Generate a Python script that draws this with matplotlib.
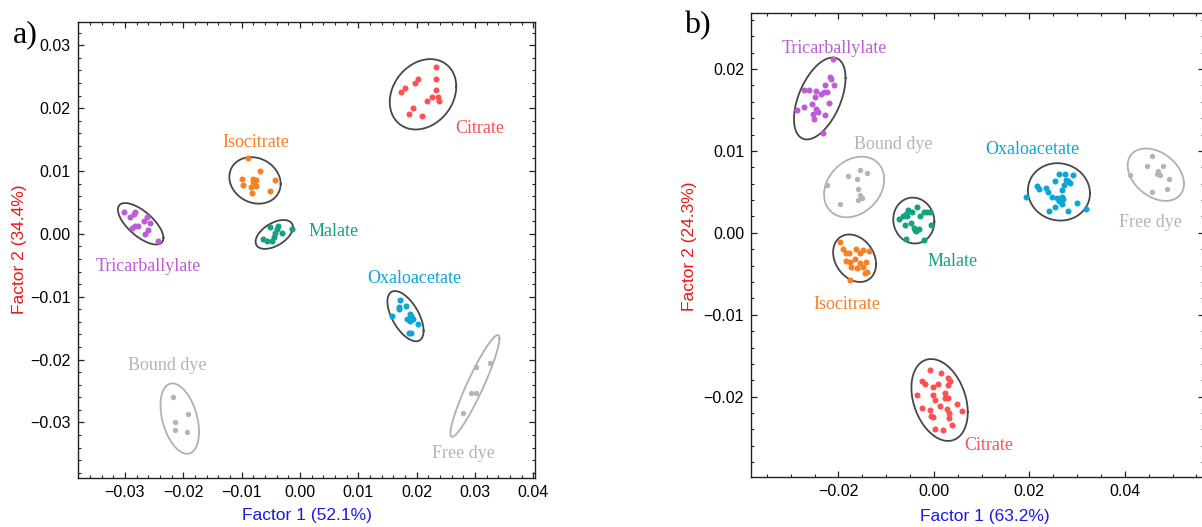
import numpy as np
import matplotlib
matplotlib.use("Agg")
from matplotlib import pyplot as plt
from matplotlib.ticker import MultipleLocator, FixedLocator, FuncFormatter

# group order used by every list below
GROUPS = ["Citrate", "Isocitrate", "Malate", "Tricarballylate", "Oxaloacetate", "Bound dye", "Free dye"]
COLORS = ["#FA5252", "#FA7F22", "#12A282", "#BE5CD8", "#0AA6D8", "#B4B4B4", "#B4B4B4"]
RING_COLORS = ["#474747"] * 5 + ["#B0B0B0"] * 2

# ---- panel a: scores (Factor 1, Factor 2)
A_CITRATE = [(0.0234, 0.0266), (0.0203, 0.0246), (0.0198, 0.0240), (0.0180, 0.0232), (0.0174, 0.0225),
             (0.0233, 0.0246), (0.0233, 0.0229), (0.0227, 0.0217), (0.0218, 0.0211), (0.0236, 0.0217),
             (0.0239, 0.0211), (0.0193, 0.0200), (0.0187, 0.0191), (0.0209, 0.0188)]
A_ISOCITRATE = [(-0.0089, 0.0120), (-0.0068, 0.0100), (-0.0100, 0.0088), (-0.0080, 0.0088), (-0.0075, 0.0086),
                (-0.0042, 0.0086), (-0.0081, 0.0082), (-0.0098, 0.0077), (-0.0083, 0.0075), (-0.0076, 0.0076),
                (-0.0051, 0.0068), (-0.0082, 0.0065)]
A_MALATE = [(-0.0051, 0.0011), (-0.0037, 0.0013), (-0.0039, 0.0008), (-0.0030, 0.0002), (-0.0014, 0.0008),
            (-0.0063, -0.0009), (-0.0057, -0.0012), (-0.0048, -0.0011), (-0.0045, -0.0005), (-0.0042, 0.0001)]
A_TRICARB = [(-0.0301, 0.0035), (-0.0292, 0.0027), (-0.0285, 0.0032), (-0.0282, 0.0035), (-0.0262, 0.0027),
             (-0.0268, 0.0021), (-0.0257, 0.0018), (-0.0278, 0.0013), (-0.0282, 0.0012), (-0.0287, 0.0009),
             (-0.0261, 0.0006), (-0.0266, 0.0000), (-0.0243, -0.0012)]
A_OXALO = [(0.0171, -0.0105), (0.0181, -0.0115), (0.0170, -0.0116), (0.0169, -0.0120), (0.0157, -0.0130),
           (0.0189, -0.0127), (0.0190, -0.0131), (0.0184, -0.0135), (0.0189, -0.0138), (0.0193, -0.0135),
           (0.0203, -0.0143), (0.0187, -0.0158), (0.0190, -0.0158)]
A_BOUND = [(-0.0218, -0.0259), (-0.0191, -0.0287), (-0.0214, -0.0299), (-0.0214, -0.0312), (-0.0193, -0.0316)]
A_FREE = [(0.0302, -0.0212), (0.0325, -0.0205), (0.0293, -0.0254), (0.0301, -0.0254), (0.0279, -0.0285)]

# ellipses: centre, half extent in x / y, tilt (correlation)
A_ELL_CX = [0.0211, -0.0077, -0.0044, -0.0273, 0.0181, -0.0206, 0.0300]
A_ELL_CY = [0.0222, 0.0085, -0.0001, 0.0016, -0.0131, -0.0294, -0.0242]
A_ELL_RX = [0.0057, 0.0044, 0.0032, 0.0039, 0.0031, 0.0033, 0.0042]
A_ELL_RY = [0.0056, 0.0037, 0.0023, 0.0033, 0.0040, 0.0056, 0.0081]
A_ELL_RHO = [0.22, -0.15, 0.50, -0.68, -0.58, -0.38, 0.93]

A_LABEL_X = [0.0309, -0.0075, 0.0058, -0.0260, 0.0196, -0.0228, 0.0280]
A_LABEL_Y = [0.0168, 0.0145, 0.0004, -0.0052, -0.0071, -0.0209, -0.0350]

# ---- panel b
B_CITRATE = [(-0.0008, -0.0168), (0.0015, -0.0171), (0.0030, -0.0177), (0.0033, -0.0181), (-0.0025, -0.0181),
             (-0.0019, -0.0184), (0.0008, -0.0184), (-0.0002, -0.0188), (0.0030, -0.0186), (0.0024, -0.0196),
             (-0.0036, -0.0198), (-0.0002, -0.0198), (0.0003, -0.0204), (0.0024, -0.0202), (0.0030, -0.0201),
             (0.0013, -0.0211), (0.0049, -0.0209), (-0.0025, -0.0214), (-0.0008, -0.0216), (0.0028, -0.0215),
             (-0.0005, -0.0223), (-0.0002, -0.0225), (0.0032, -0.0220), (0.0060, -0.0218), (0.0032, -0.0226),
             (0.0038, -0.0234), (0.0002, -0.0239), (0.0020, -0.0241)]
B_ISOCITRATE = [(-0.0196, -0.0011), (-0.0190, -0.0020), (-0.0185, -0.0024), (-0.0178, -0.0024), (-0.0164, -0.0020),
                (-0.0155, -0.0024), (-0.0148, -0.0021), (-0.0136, -0.0022), (-0.0183, -0.0034), (-0.0175, -0.0035),
                (-0.0166, -0.0032), (-0.0155, -0.0037), (-0.0142, -0.0036), (-0.0173, -0.0042), (-0.0161, -0.0043),
                (-0.0149, -0.0042), (-0.0140, -0.0048), (-0.0145, -0.0049), (-0.0175, -0.0058)]
B_MALATE = [(-0.0072, 0.0017), (-0.0064, 0.0021), (-0.0058, 0.0023), (-0.0055, 0.0028), (-0.0046, 0.0026),
            (-0.0036, 0.0032), (-0.0029, 0.0021), (-0.0021, 0.0025), (-0.0014, 0.0025), (-0.0009, 0.0026),
            (-0.0007, 0.0010), (-0.0061, 0.0009), (-0.0047, 0.0012), (-0.0042, 0.0006), (-0.0038, 0.0002),
            (-0.0032, 0.0005), (-0.0059, -0.0008), (-0.0021, -0.0009), (-0.0056, 0.0021), (-0.0040, 0.0003)]
B_TRICARB = [(-0.0211, 0.0212), (-0.0218, 0.0190), (-0.0215, 0.0188), (-0.0227, 0.0181), (-0.0209, 0.0181),
             (-0.0272, 0.0174), (-0.0261, 0.0174), (-0.0246, 0.0173), (-0.0230, 0.0172), (-0.0223, 0.0172),
             (-0.0237, 0.0169), (-0.0248, 0.0166), (-0.0286, 0.0150), (-0.0272, 0.0154), (-0.0256, 0.0157),
             (-0.0246, 0.0151), (-0.0243, 0.0147), (-0.0220, 0.0159), (-0.0254, 0.0145), (-0.0227, 0.0144),
             (-0.0251, 0.0139), (-0.0232, 0.0122)]
B_OXALO = [(0.0263, 0.0072), (0.0275, 0.0072), (0.0291, 0.0070), (0.0254, 0.0063), (0.0276, 0.0065),
           (0.0282, 0.0063), (0.0285, 0.0061), (0.0273, 0.0059), (0.0217, 0.0057), (0.0221, 0.0054),
           (0.0235, 0.0055), (0.0240, 0.0050), (0.0268, 0.0052), (0.0248, 0.0044), (0.0258, 0.0042),
           (0.0268, 0.0044), (0.0271, 0.0041), (0.0263, 0.0039), (0.0269, 0.0035), (0.0254, 0.0032),
           (0.0299, 0.0037), (0.0242, 0.0027), (0.0280, 0.0027), (0.0319, 0.0029), (0.0194, 0.0044)]
B_BOUND = [(-0.0223, 0.0058), (-0.0179, 0.0069), (-0.0161, 0.0066), (-0.0155, 0.0077), (-0.0139, 0.0073),
           (-0.0159, 0.0054), (-0.0155, 0.0046), (-0.0150, 0.0043), (-0.0158, 0.0040), (-0.0197, 0.0035)]
B_FREE = [(0.0457, 0.0094), (0.0446, 0.0081), (0.0479, 0.0082), (0.0470, 0.0076), (0.0467, 0.0072),
          (0.0474, 0.0070), (0.0411, 0.0070), (0.0493, 0.0066), (0.0489, 0.0054), (0.0457, 0.0050)]

B_ELL_CX = [0.0012, -0.0166, -0.0042, -0.0239, 0.0262, -0.0167, 0.0465]
B_ELL_CY = [-0.0204, -0.0031, 0.0015, 0.0164, 0.0050, 0.0056, 0.0071]
B_ELL_RX = [0.0059, 0.0045, 0.0043, 0.0054, 0.0065, 0.0063, 0.0059]
B_ELL_RY = [0.0050, 0.0029, 0.0028, 0.0050, 0.0035, 0.0037, 0.0032]
B_ELL_RHO = [-0.30, -0.25, -0.05, 0.50, -0.05, 0.25, -0.35]

B_LABEL_X = [0.0114, -0.0183, 0.0040, -0.0209, 0.0206, -0.0084, 0.0453]
B_LABEL_Y = [-0.0259, -0.0088, -0.0035, 0.0225, 0.0102, 0.0108, 0.0013]


def ring(cx, cy, rx, ry, rho):
    t = np.linspace(0, 2 * np.pi, 240)
    x = cx + rx * np.cos(t)
    y = cy + ry * (rho * np.cos(t) + np.sqrt(1 - rho ** 2) * np.sin(t))
    return x, y


def tick_fmt(v, pos):
    s = f"{v:.2f}"
    if s == "-0.00":
        s = "0.00"
    return s.replace("-", "\u2212")


def draw_panel(ax, groups_pts, ell, labels, xlim, ylim, xmajor, ymajor, xminor, yminor, xlab, ylab):
    cxs, cys, rxs, rys, rhos = ell
    for i, pts in enumerate(groups_pts):
        x, y = ring(cxs[i], cys[i], rxs[i], rys[i], rhos[i])
        ax.plot(x, y, color=RING_COLORS[i], lw=1.3, zorder=2)
        pts = np.array(pts)
        size = 15 if i >= 5 else 19
        ax.scatter(pts[:, 0], pts[:, 1], s=size, color=COLORS[i], linewidths=0, zorder=3)
        ax.text(labels[0][i], labels[1][i], GROUPS[i], color=COLORS[i], fontsize=13,
                family="Liberation Serif", ha="center", va="center", zorder=4)

    ax.set_xlim(*xlim)
    ax.set_ylim(*ylim)
    ax.xaxis.set_major_locator(FixedLocator(xmajor))
    ax.yaxis.set_major_locator(FixedLocator(ymajor))
    ax.xaxis.set_minor_locator(MultipleLocator(xminor))
    ax.yaxis.set_minor_locator(MultipleLocator(yminor))
    ax.xaxis.set_major_formatter(FuncFormatter(tick_fmt))
    ax.yaxis.set_major_formatter(FuncFormatter(tick_fmt))
    ax.tick_params(which="both", direction="in", top=True, right=True, color="#222222",
                   labelsize=11.5, pad=5)
    ax.tick_params(which="major", length=4.5, width=0.9)
    ax.tick_params(which="minor", length=2.5, width=0.8)
    for sp in ax.spines.values():
        sp.set_linewidth(1.0)
        sp.set_color("#222222")

    ax.set_xlabel(xlab[0], color="#1A1AE6", fontsize=12.5)
    ax.set_ylabel(ylab[0], color="#EE1515", fontsize=12.5)
    ax.xaxis.set_label_coords(xlab[1], xlab[2])
    ax.yaxis.set_label_coords(ylab[1], ylab[2])


def main():
    plt.rcParams["font.family"] = ["Liberation Sans", "DejaVu Sans"]
    fig = plt.figure(figsize=(12.02, 5.27), dpi=100)

    ax_a = fig.add_axes([0.0646, 0.0924, 0.3805, 0.8658])
    ax_b = fig.add_axes([0.6248, 0.0949, 0.3769, 0.8799])

    draw_panel(ax_a,
               [A_CITRATE, A_ISOCITRATE, A_MALATE, A_TRICARB, A_OXALO, A_BOUND, A_FREE],
               (A_ELL_CX, A_ELL_CY, A_ELL_RX, A_ELL_RY, A_ELL_RHO),
               (A_LABEL_X, A_LABEL_Y),
               (-0.0381, 0.0403), (-0.0389, 0.0337),
               [-0.03, -0.02, -0.01, 0.0, 0.01, 0.02, 0.03, 0.04],
               [-0.03, -0.02, -0.01, 0.0, 0.01, 0.02, 0.03],
               0.002, 0.002,
               ("Factor 1 (52.1%)", 0.501, -0.066),
               ("Factor 2 (34.4%)", -0.111, 0.501))

    draw_panel(ax_b,
               [B_CITRATE, B_ISOCITRATE, B_MALATE, B_TRICARB, B_OXALO, B_BOUND, B_FREE],
               (B_ELL_CX, B_ELL_CY, B_ELL_RX, B_ELL_RY, B_ELL_RHO),
               (B_LABEL_X, B_LABEL_Y),
               (-0.0383, 0.0566), (-0.0298, 0.0268),
               [-0.02, 0.0, 0.02, 0.04],
               [-0.02, -0.01, 0.0, 0.01, 0.02],
               0.005, 0.002,
               ("Factor 1 (63.2%)", 0.515, -0.070),
               ("Factor 2 (24.3%)", -0.119, 0.498))

    fig.text(0.021, 0.935, "a)", fontsize=23, family="Liberation Serif", ha="center", va="center")
    fig.text(0.580, 0.952, "b)", fontsize=23, family="Liberation Serif", ha="center", va="center")

    fig.savefig("out.png", dpi=100)


if __name__ == "__main__":
    main()
